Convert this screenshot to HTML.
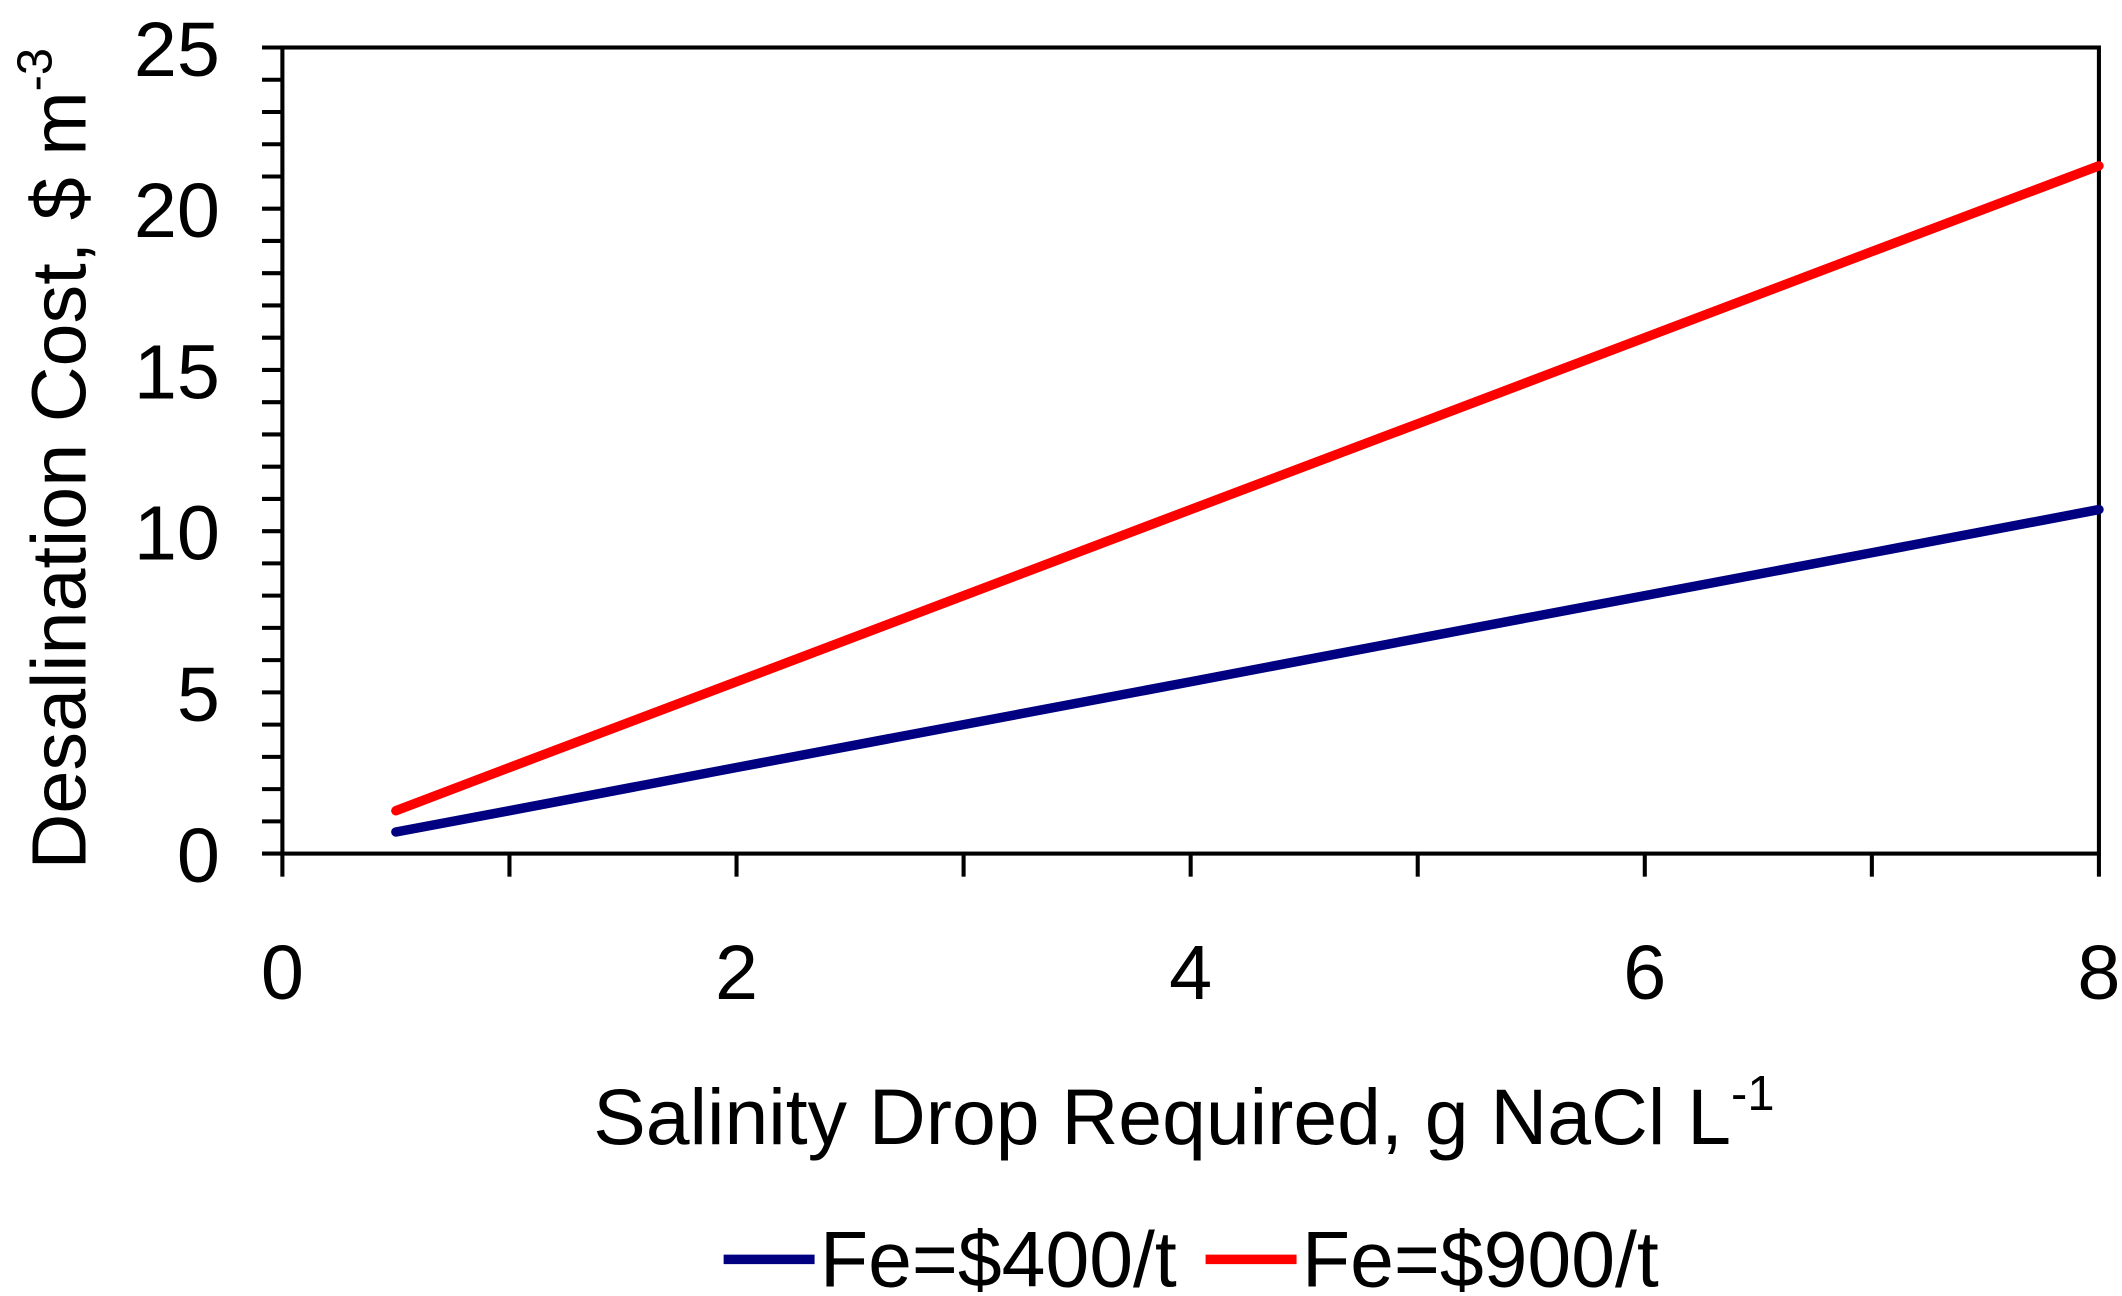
<!DOCTYPE html>
<html><head><meta charset="utf-8"><style>html,body{margin:0;padding:0;background:#fff}svg{display:block}</style></head>
<body>
<svg id="chart" width="2122" height="1296" viewBox="0 0 1563 955" preserveAspectRatio="none" xmlns="http://www.w3.org/2000/svg" font-family="Liberation Sans, Arial, sans-serif">
<rect x="208" y="35" width="1338" height="594" fill="#fff" stroke="#000" stroke-width="3"/>
<g id="ticks"></g>
<g id="series"></g>
<text x="0" y="0" transform="translate(63,338) rotate(-90)" text-anchor="middle" font-size="57">Desalination Cost, $ m<tspan dy="-25" font-size="36">-3</tspan></text>
<text x="872" y="843" text-anchor="middle" font-size="58">Salinity Drop Required, g NaCl L<tspan dy="-25" font-size="36">-1</tspan></text>
<g>
<line x1="533" y1="928" x2="600" y2="928" stroke="#000080" stroke-width="7"/>
<text x="604" y="948" font-size="58">Fe=$400/t</text>
<line x1="888" y1="928" x2="955" y2="928" stroke="#ff0000" stroke-width="7"/>
<text x="959" y="948" font-size="58">Fe=$900/t</text>
</g>
</svg>
<script>
const xValues = [0.5, 1, 2, 3, 4, 5, 6, 7, 8];
const fe400 = [0.67, 1.33, 2.67, 4.0, 5.33, 6.67, 8.0, 9.33, 10.67];
const fe900 = [1.33, 2.67, 5.33, 8.0, 10.67, 13.33, 16.0, 18.67, 21.33];
const xTickLabels = ["0", "2", "4", "6", "8"];
const yTickLabels = ["0", "5", "10", "15", "20", "25"];
const NS = "http://www.w3.org/2000/svg";
const L=208,R=1546,T=35,B=629,XMAX=8,YMAX=25;
function sx(v){return L+(R-L)*v/XMAX;}
function sy(v){return B-(B-T)*v/YMAX;}
function mk(tag,attrs,parent){const e=document.createElementNS(NS,tag);for(const k in attrs)e.setAttribute(k,attrs[k]);parent.appendChild(e);return e;}
const tk=document.getElementById('ticks');
for(let v=0;v<=YMAX;v++){
  const l=mk('line',{x1:L-15,x2:L,y1:sy(v),y2:sy(v),stroke:'#000','stroke-width':3},tk);
  
  
}
yTickLabels.forEach(s=>{
  const t=mk('text',{x:162,y:sy(+s)+21,'text-anchor':'end','font-size':57},tk);t.textContent=s;
  
  
});
for(let v=0;v<=XMAX;v++){
  const l=mk('line',{x1:sx(v),x2:sx(v),y1:B,y2:B+17,stroke:'#000','stroke-width':3},tk);
  
  
}
xTickLabels.forEach(s=>{
  const t=mk('text',{x:sx(+s),y:736,'text-anchor':'middle','font-size':57},tk);t.textContent=s;
  
  
});
const sg=document.getElementById('series');
[[fe400,'#000080','line-fe400'],[fe900,'#ff0000','line-fe900']].forEach(([ys,c,n])=>{
  const p=mk('polyline',{points:xValues.map((x,i)=>sx(x)+','+sy(ys[i])).join(' '),fill:'none',stroke:c,'stroke-width':7,'stroke-linecap':'round'},sg);
  
  
});
</script>
</body></html>
